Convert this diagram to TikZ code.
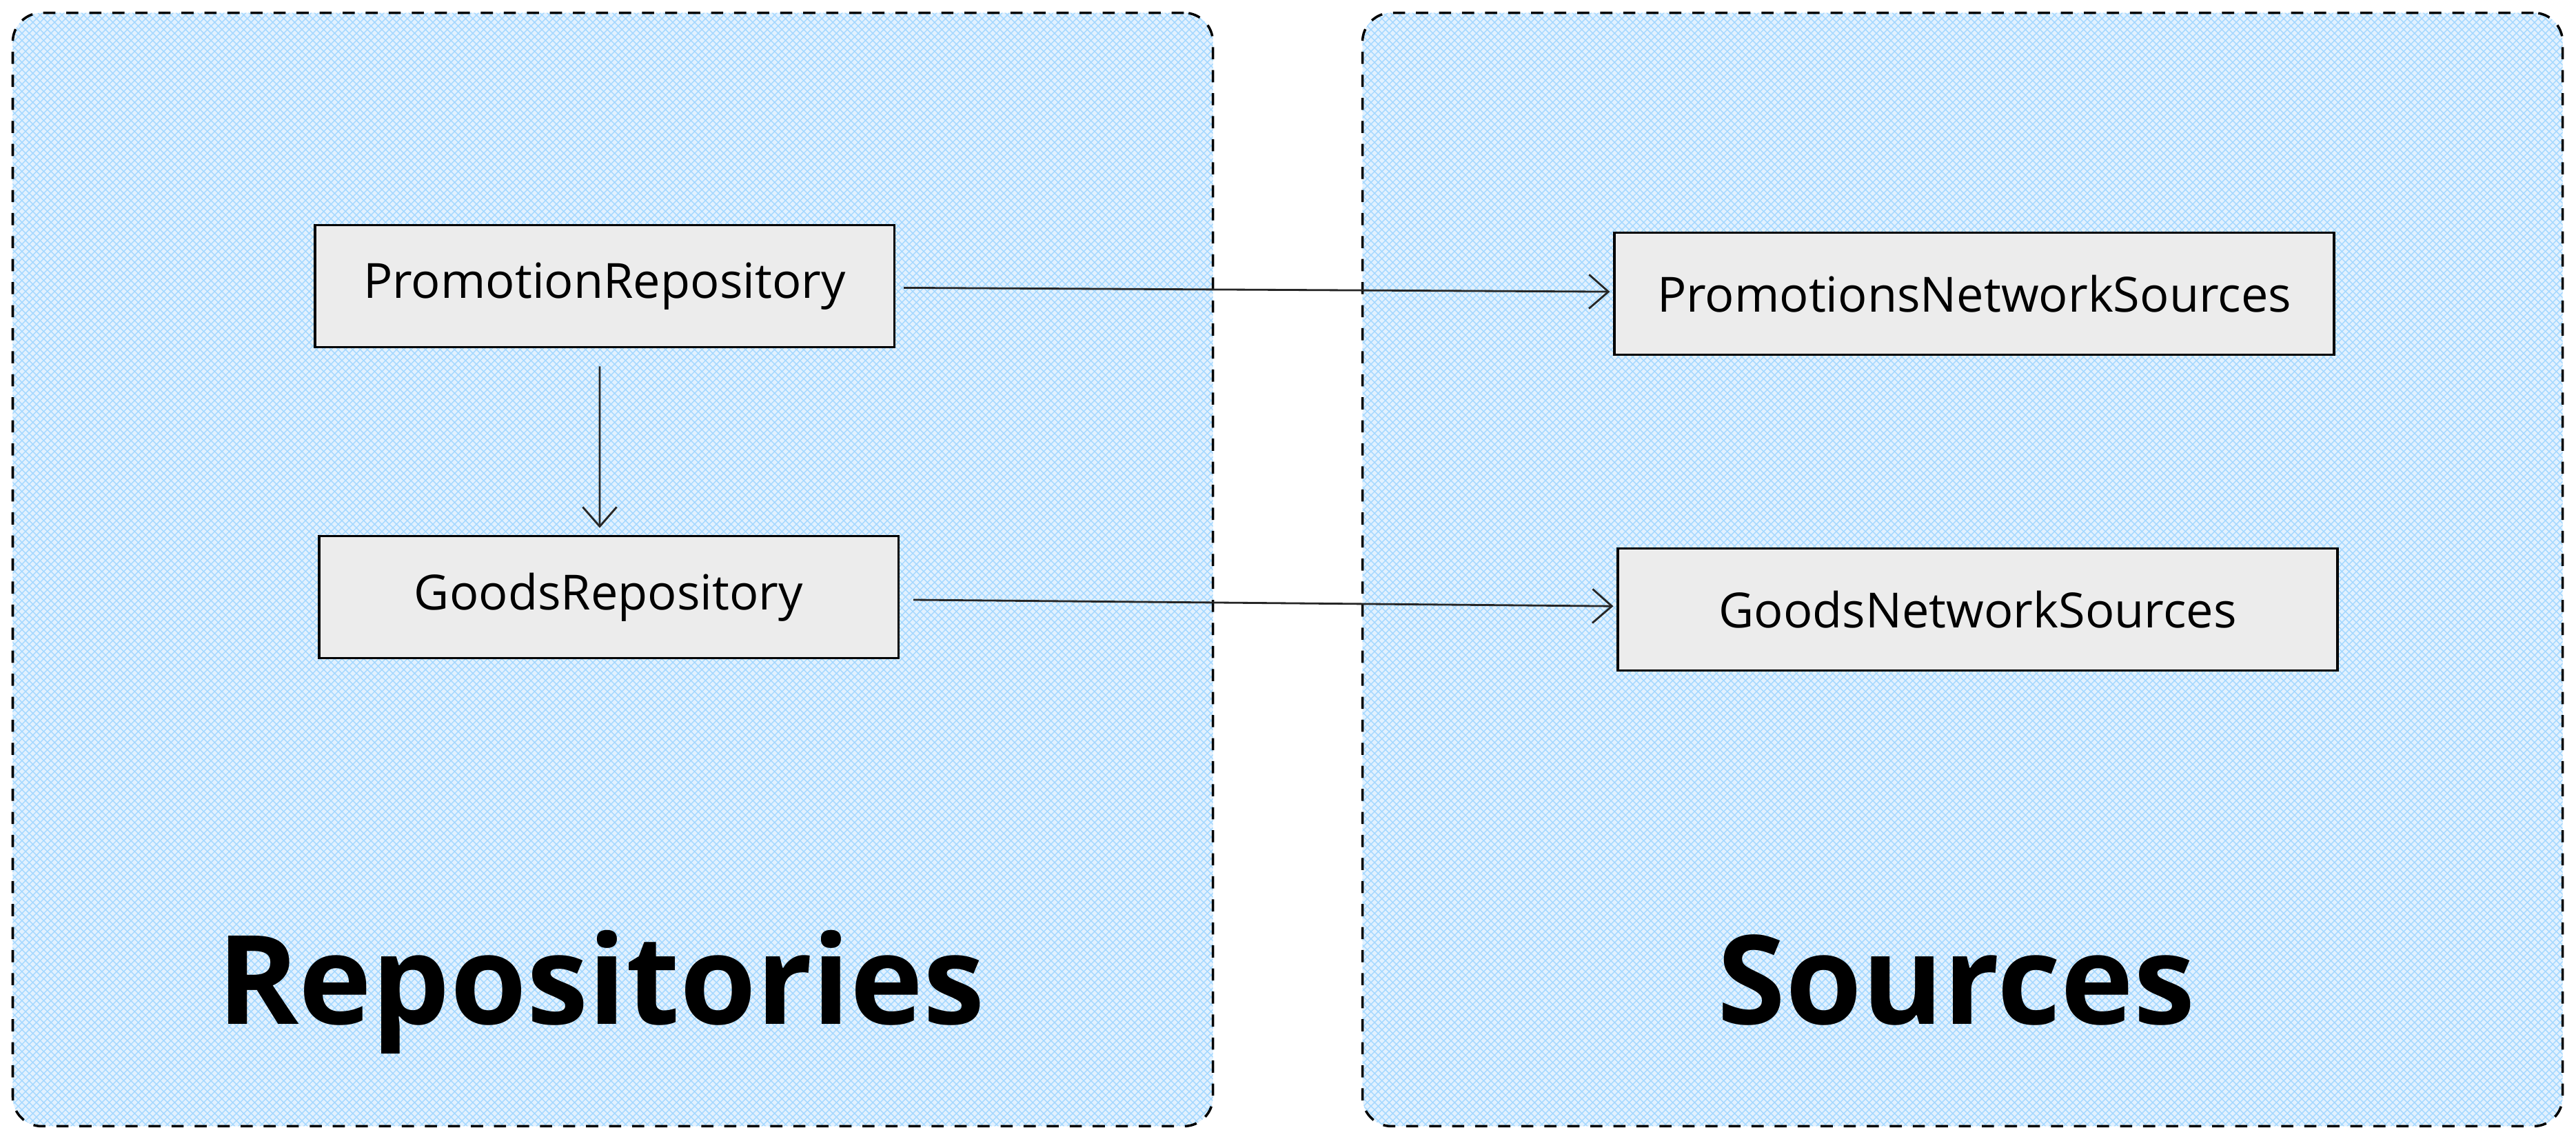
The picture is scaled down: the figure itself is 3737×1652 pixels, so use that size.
\documentclass[tikz,border=0pt]{standalone}
\usepackage{fontspec}
\setmainfont{Open Sans}
\definecolor{paneblue}{RGB}{226, 241, 254}
\definecolor{hatchblue}{RGB}{165, 216, 255}
\definecolor{boxgray}{RGB}{236, 236, 236}
\usetikzlibrary{arrows.meta, positioning, patterns}

\begin{document}
\begin{tikzpicture}[x=0.01cm, y=-0.01cm,
  panel/.style={draw=black, dash pattern=on 5pt off 4.5pt, line width=1pt, preaction={fill=paneblue}, pattern=crosshatch, pattern color=hatchblue, rounded corners=12pt, minimum width=17.4cm, minimum height=16.14cm, inner sep=0pt},
  classbox/.style={draw=black, line width=1pt, fill=boxgray, minimum height=1.77cm, inner sep=0pt, font=\fontsize{20}{24}\selectfont},
  layername/.style={font=\fontsize{51}{58}\selectfont\bfseries, anchor=base, inner sep=0pt},
  link/.style={-{Straight Barb[length=8pt, width=14pt]}, line width=0.8pt, black!85}
]
  \useasboundingbox (0,0) rectangle (3737,1652);

  % the two layers
  \node[panel] (repos) at (889,826) {};
  \node[panel] (sources) at (2847,826) {};
  \node[layername] (reposname) at (872,1485) {Repositories};
  \node[layername] (sourcesname) at (2838,1485) {Sources};

  % classes
  \node[classbox, minimum width=8.4cm] (promorepo) at (877,415) {PromotionRepository};
  \node[classbox, minimum width=8.4cm] (goodsrepo) at (883,866) {GoodsRepository};
  \node[classbox, minimum width=10.43cm] (promosrc) at (2864,426) {PromotionsNetworkSources};
  \node[classbox, minimum width=10.43cm] (goodssrc) at (2869,884) {GoodsNetworkSources};

  % dependencies
  \draw[link, shorten <=0.12cm, shorten >=0.05cm] (promorepo) -- (promosrc);
  \draw[link, shorten <=0.26cm, shorten >=0.1cm] ([xshift=-0.07cm]promorepo.south) -- ([xshift=-0.13cm]goodsrepo.north);
  \draw[link, shorten <=0.2cm, shorten >=0.05cm] (goodsrepo) -- (goodssrc);
\end{tikzpicture}
\end{document}
